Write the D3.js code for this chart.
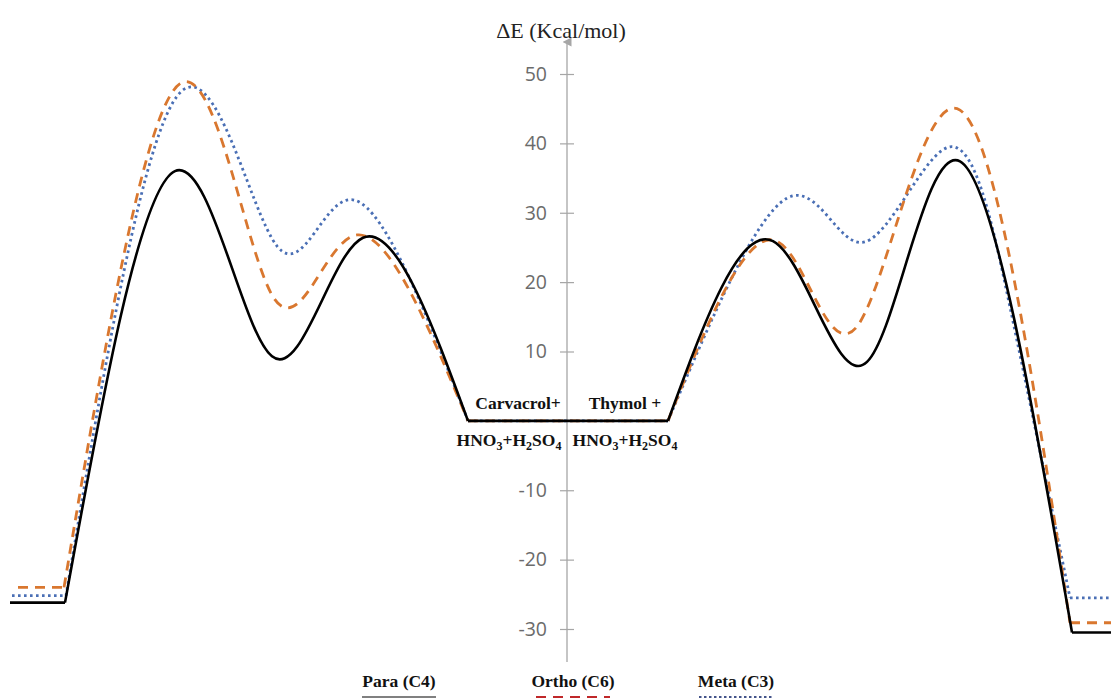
<!DOCTYPE html>
<html>
<head>
<meta charset="utf-8">
<script src="https://cdn.jsdelivr.net/npm/d3@7"></script>
<style>
  body { margin: 0; background: #fff; }
  svg { display: block; }
</style>
</head>
<body>
<div class="chart"></div>
<script>
var width = 1111, height = 698;

// reaction coordinate (arbitrary units) vs energy (kcal/mol): plateaus, maxima and minima
var para = [[1.0,-26.2],[6.5,-26.2],[17.5,36.0],[27.2,9.3],[36.3,26.4],[46.8,0],[66.8,0],
  [77.3,25.9],[86.7,8.5],[96.0,37.4],[107.2,-30.5],[111.1,-30.5]];

var ortho = [[1.8,-24.0],[6.4,-24.0],[18.0,48.6],[27.3,17.9],[35.7,26.8],[46.8,0],[66.8,0],
  [77.5,26.0],[85.8,13.8],[96.0,44.8],[107.0,-29.1],[111.1,-29.1]];

var meta = [[1.2,-25.2],[6.6,-25.2],[18.0,47.3],[27.7,25.2],[35.5,31.8],[46.8,0],[66.8,0],
  [78.7,32.1],[86.5,25.8],[95.0,39.5],[101.0,16.4],[107.0,-25.5],[111.1,-25.5]];

var seriesNames = ["Para (C4)", "Ortho (C6)", "Meta (C3)"];
var yTicks = [-30, -20, -10, 0, 10, 20, 30, 40, 50];
var axisX = 56.7;

var x = d3.scaleLinear().domain([0, 111.1]).range([0, 1111]);
var y = d3.scaleLinear().domain([-30, 50]).range([629, 74]);

var serif = "'Liberation Serif', 'Times New Roman', Times, serif";

var svg = d3.select(".chart").append("svg")
    .attr("width", width)
    .attr("height", height);

// vertical axis
var ax = x(axisX);
svg.append("defs").append("marker")
    .attr("id", "arrow")
    .attr("viewBox", "0 0 10 10")
    .attr("refX", 5).attr("refY", 5)
    .attr("markerWidth", 9).attr("markerHeight", 9)
    .attr("markerUnits", "userSpaceOnUse")
    .attr("orient", "auto")
    .append("path")
    .attr("d", "M0,10 L5,0 L10,10 Z")
    .attr("fill", "#a6a6a6");

svg.append("line")
    .attr("x1", ax).attr("x2", ax)
    .attr("y1", 662).attr("y2", 42)
    .attr("stroke", "#a6a6a6")
    .attr("stroke-width", 1.3)
    .attr("marker-end", "url(#arrow)");

var axis = d3.axisLeft(y).tickValues(yTicks).tickSize(0).tickPadding(20)
    .tickFormat(function (d) { return d === 0 ? "" : String(d); });
var gAxis = svg.append("g")
    .attr("transform", "translate(" + ax + ",0)")
    .call(axis);
gAxis.select(".domain").remove();
gAxis.selectAll("text")
    .style("font-family", "'Open Sans', sans-serif")
    .style("font-size", "19.5px")
    .attr("fill", "#6b6b6b");
gAxis.selectAll(".tick").append("line")
    .attr("x1", -7).attr("x2", 7)
    .attr("stroke", "#a6a6a6")
    .attr("stroke-width", 1.2);

svg.append("text")
    .attr("x", 561).attr("y", 38)
    .attr("text-anchor", "middle")
    .style("font-family", serif)
    .style("font-size", "22px")
    .attr("fill", "#222")
    .text("ΔE (Kcal/mol)");

// split each profile at its plateau corners so the flats stay straight
function pieces(pts) {
    var out = [], cur = [pts[0]];
    for (var i = 1; i < pts.length; i++) {
        cur.push(pts[i]);
        if (i < pts.length - 1) {
            var flatL = pts[i][1] === pts[i - 1][1],
                flatR = pts[i][1] === pts[i + 1][1];
            if (flatL !== flatR) { out.push(cur); cur = [pts[i]]; }
        }
    }
    out.push(cur);
    return out;
}

var line = d3.line()
    .x(function (d) { return x(d[0]); })
    .y(function (d) { return y(d[1]); })
    .curve(d3.curveNatural);

var styles = [
    { data: para, color: "#000", width: 2.6, dash: null },
    { data: ortho, color: "#d9772f", width: 2.8, dash: "10,7" },
    { data: meta, color: "#4a6fb5", width: 2.8, dash: "2.6,3.4" }
];

// meta first, then ortho, para on top
[2, 1, 0].forEach(function (k) {
    var s = styles[k];
    svg.append("path")
        .attr("d", pieces(s.data).map(function (p) { return line(p); }).join(""))
        .attr("fill", "none")
        .attr("stroke", s.color)
        .attr("stroke-width", s.width)
        .attr("stroke-dasharray", s.dash)
        .attr("stroke-linejoin", "round");
});

// reactant labels
function label(t, cx, yb) {
    return svg.append("text")
        .attr("x", cx).attr("y", yb)
        .attr("text-anchor", "middle")
        .style("font-family", serif)
        .style("font-weight", "bold")
        .style("font-size", "17.5px")
        .attr("fill", "#111")
        .text(t);
}
function formula(cx, yb) {
    var txt = label("", cx, yb);
    [["HNO", 0], ["3", 1], ["+H", 0], ["2", 1], ["SO", 0], ["4", 1]].forEach(function (p, i) {
        txt.append("tspan")
            .attr("dy", p[1] ? 4 : (i ? -4 : 0))
            .style("font-size", p[1] ? "12px" : null)
            .text(p[0]);
    });
}
label("Carvacrol+", 518, 409);
label("Thymol +", 625, 409);
formula(509, 446);
formula(625, 446);

// legend
var legendX = [399, 573, 736];
var legendColors = ["#808080", "#c0282a", "#44548a"];
var legendDash = [null, "10,7", "2.5,2.5"];
seriesNames.forEach(function (name, i) {
    svg.append("text")
        .attr("x", legendX[i]).attr("y", 687)
        .attr("text-anchor", "middle")
        .style("font-family", serif)
        .style("font-weight", "bold")
        .style("font-size", "17.5px")
        .attr("fill", "#111")
        .text(name);
    svg.append("line")
        .attr("x1", legendX[i] - 37).attr("x2", legendX[i] + 37)
        .attr("y1", 697.5).attr("y2", 697.5)
        .attr("stroke", legendColors[i])
        .attr("stroke-width", 3)
        .attr("stroke-dasharray", legendDash[i]);
});
</script>
</body>
</html>
